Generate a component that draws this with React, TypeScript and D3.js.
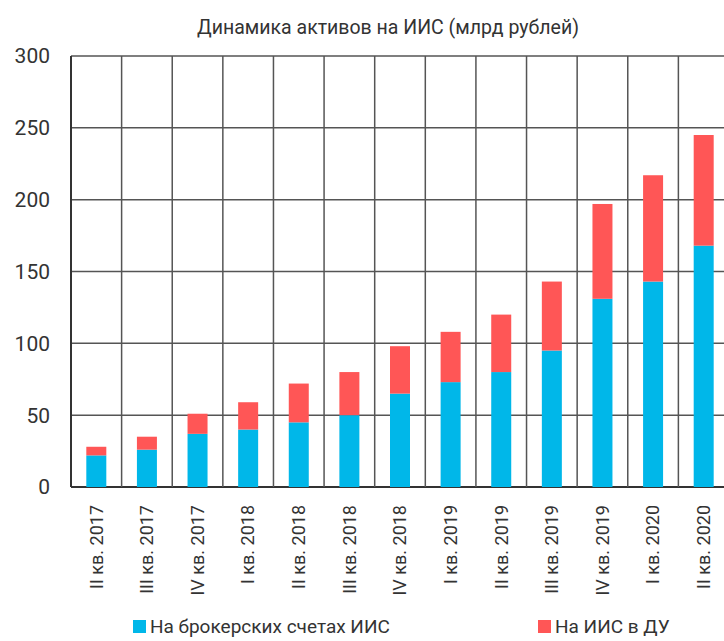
import React from 'react';
import * as d3 from 'd3';

const quarters = [
  'II кв. 2017', 'III кв. 2017', 'IV кв. 2017',
  'I кв. 2018', 'II кв. 2018', 'III кв. 2018', 'IV кв. 2018',
  'I кв. 2019', 'II кв. 2019', 'III кв. 2019', 'IV кв. 2019',
  'I кв. 2020', 'II кв. 2020',
];
// млрд рублей
const brokerValues = [22, 26, 37, 40, 45, 50, 65, 73, 80, 95, 131, 143, 168];
const trustValues = [6, 9, 14, 19, 27, 30, 33, 35, 40, 48, 66, 74, 77];
const yTicks = [0, 50, 100, 150, 200, 250, 300];

const seriesNames = ['На брокерских счетах ИИС', 'На ИИС в ДУ'];
const colors = ['#00b7e9', '#ff5656'];

const W = 724;
const H = 641;
const margin = { top: 56, right: -5, bottom: 154, left: 71 };
const FONT = 'Roboto, sans-serif';

const App = () => {
  const innerW = W - margin.left - margin.right;
  const innerH = H - margin.top - margin.bottom;

  const x = d3.scaleBand<string>()
    .domain(quarters)
    .range([0, innerW])
    .paddingInner(0)
    .paddingOuter(0);

  const y = d3.scaleLinear()
    .domain([0, 300])
    .range([innerH, 0]);

  const barW = 20;

  const rows = quarters.map((q, i) => ({ q, broker: brokerValues[i], trust: trustValues[i] }));
  const stacked = d3.stack<any>().keys(['broker', 'trust'])(rows);

  return (
    <div style={{ position: 'absolute', left: 0, top: 0 }}>
      <svg width={W} height={H} style={{ display: 'block', background: '#fff' }}>
        <text x={388} y={34} textAnchor="middle" fontFamily={FONT} fontSize={19.5} fill="#333">
          Динамика активов на ИИС (млрд рублей)
        </text>
        <g transform={`translate(${margin.left},${margin.top})`}>
          {/* horizontal grid */}
          {yTicks.map(t => (
            <line key={'h' + t} x1={0} x2={innerW} y1={y(t)} y2={y(t)}
              stroke={t === 0 ? '#333' : '#555'} strokeWidth={t === 0 ? 2 : 1.5} />
          ))}
          {/* vertical grid at band edges */}
          {quarters.concat(['end']).map((q, i) => {
            const xx = i * x.bandwidth();
            return <line key={'v' + i} x1={xx} x2={xx} y1={0} y2={innerH}
              stroke={i === 0 ? '#333' : '#555'} strokeWidth={i === 0 ? 2 : 1.5} />;
          })}
          {/* bars */}
          {stacked.map((s, si) => (
            <g key={s.key} fill={colors[si]}>
              {s.map((d, i) => (
                <rect key={i}
                  x={(x(quarters[i]) as number) + x.bandwidth() / 2 - barW / 2}
                  y={y(d[1])}
                  width={barW}
                  height={y(d[0]) - y(d[1])} />
              ))}
            </g>
          ))}
          {/* y tick labels */}
          {yTicks.map(t => (
            <text key={'yl' + t} x={-21} y={y(t)} dy="0.35em" textAnchor="end"
              fontFamily={FONT} fontSize={21} fill="#333">{t}</text>
          ))}
          {/* x labels */}
          {quarters.map(q => {
            const cx = (x(q) as number) + x.bandwidth() / 2;
            return (
              <text key={'xl' + q} transform={`translate(${cx},${innerH + 18}) rotate(-90)`}
                textAnchor="end" dy="0.35em" fontFamily={FONT} fontSize={18} fill="#333">{q}</text>
            );
          })}
        </g>
        {/* legend */}
        <g fontFamily={FONT} fontSize={19} fill="#333">
          <rect x={133} y={620} width={13} height={13} fill={colors[0]} />
          <text x={150} y={633}>{seriesNames[0]}</text>
          <rect x={538} y={620} width={13} height={13} fill={colors[1]} />
          <text x={555} y={633}>{seriesNames[1]}</text>
        </g>
      </svg>
    </div>
  );
};

export default App;
